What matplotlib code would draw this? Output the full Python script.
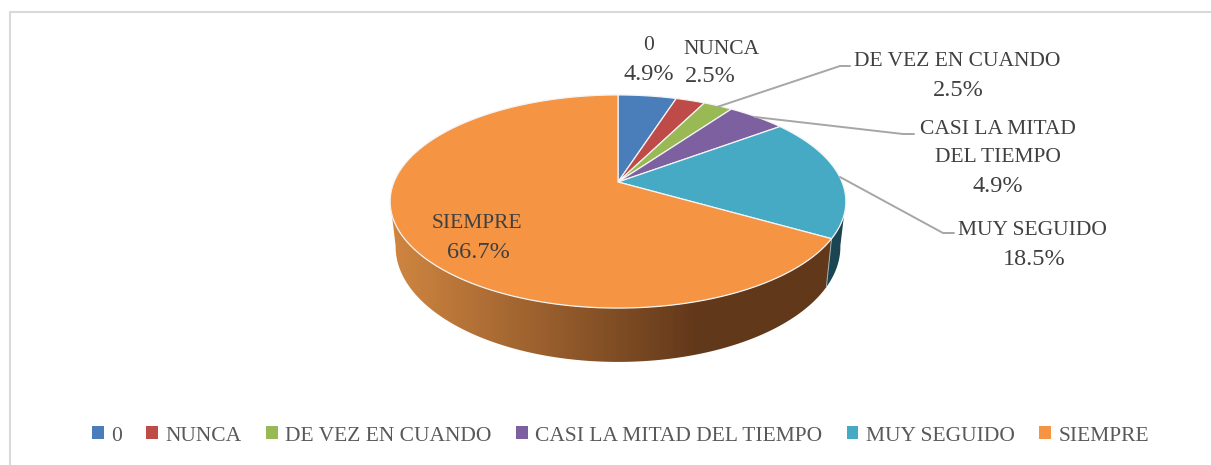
import numpy as np
import matplotlib
matplotlib.use("Agg")
import matplotlib.pyplot as plt
from matplotlib.patches import Polygon, Patch

categories = ["0", "NUNCA", "DE VEZ EN CUANDO", "CASI LA MITAD DEL TIEMPO", "MUY SEGUIDO", "SIEMPRE"]
counts = [4, 2, 2, 4, 15, 54]
colors = ["#4A7EBB", "#BE4B48", "#98B954", "#7D60A0", "#46AAC5", "#F59443"]

W, H = 1211, 465
FONT = "Liberation Serif"
TXT = "#404040"
plt.rcParams["font.family"] = FONT

fig = plt.figure(figsize=(W / 100, H / 100), dpi=100, facecolor="white")
ax = fig.add_axes([0, 0, 1, 1])

# perspective projection of the pie disc
CX, CY, A, B, K = 618, 182, 224, 103, 0.183


def top(theta):
    u, v = np.sin(theta), np.cos(theta)
    return CX + A * u / (1 + K * v), CY - B * v / (1 + K * v)


def bottom(theta):
    x, y = top(theta)
    return CX + 0.976 * (x - CX), 1.08 * y + 29.2


fr = np.array(counts) / sum(counts)
edges = np.concatenate([[0], np.cumsum(fr)]) * 2 * np.pi


def wall_poly(a0, a1):
    th = np.linspace(a0, a1, 300)
    xa, ya = top(th)
    xb, yb = bottom(th[::-1])
    return np.column_stack([np.r_[xa, xb], np.r_[ya, yb]])


# side wall: teal slice
ax.add_patch(Polygon(wall_poly(np.radians(100), edges[5]), closed=True,
                     facecolor="#1B4552", edgecolor="none", zorder=1))

# side wall: orange slice with a horizontal shading gradient
c0 = np.array([0xCF, 0x85, 0x40]) / 255
c1 = np.array([0x62, 0x38, 0x1A]) / 255
gx = np.arange(380, 860)
t = np.clip((gx - 395) / (697 - 395), 0, 1)[:, None]
grad = (c0 + (c1 - c0) * t)[None, :, :]
im = ax.imshow(grad, extent=(380, 860, 380, 190), aspect="auto", zorder=1, interpolation="bilinear")
clip = Polygon(wall_poly(edges[5], np.radians(260)), closed=True, transform=ax.transData,
               facecolor="none", edgecolor="none")
ax.add_patch(clip)
im.set_clip_path(clip)
sx0, sy0 = top(edges[5])
sx1, sy1 = bottom(edges[5])
ax.plot([sx0, sx1], [sy0, sy1], color="#9FB0B5", lw=0.7, zorder=1.5)

# top face
for i, c in enumerate(colors):
    th = np.linspace(edges[i], edges[i + 1], 200)
    xs, ys = top(th)
    pts = np.column_stack([np.r_[CX, xs], np.r_[CY, ys]])
    ax.add_patch(Polygon(pts, closed=True, facecolor=c, edgecolor="#F4F4F4",
                         linewidth=0.9, joinstyle="round", zorder=2))

# leader lines
leaders = [
    [(717, 107), (840, 66), (850, 66)],
    [(755, 117), (903, 134), (914, 134)],
    [(840, 177), (943, 233), (954, 233)],
]
for pts in leaders:
    ax.plot(*zip(*pts), color="#A6A6A6", lw=1.4, zorder=3, solid_capstyle="round")

# data labels
pct = [f"{100 * f:.1f}%" for f in fr]
labels = [
    (649, 649, 45, 75, ["0"], 0),
    (721, 710, 49, 77, ["NUNCA"], 1),
    (957, 958, 61, 90, ["DE VEZ EN CUANDO"], 2),
    (998, 998, 129, 186, ["CASI LA MITAD", "DEL TIEMPO"], 3),
    (1032, 1034, 230, 259, ["MUY SEGUIDO"], 4),
    (477, 478, 223, 252, ["SIEMPRE"], 5),
]
FS = 15.5
FSP = 17.5
for x, xp, y0, yp, lines, idx in labels:
    for j, s in enumerate(lines):
        ax.text(x, y0 + j * 28, s, ha="center", va="center", fontsize=FS, color=TXT, zorder=4)
    ax.text(xp, yp, pct[idx], ha="center", va="center", fontsize=FSP, color=TXT, zorder=4)

# chart frame (open on the right, as cropped in the reference)
ax.plot([10, 10, W], [H, 12, 12], color="#D9D9D9", lw=1.5, zorder=0)

ax.set_xlim(0, W)
ax.set_ylim(H, 0)
ax.axis("off")

# legend
handles = [Patch(facecolor=c, edgecolor="none") for c in colors]
leg = ax.legend(handles, categories, ncol=6, loc="center", bbox_to_anchor=(620.5 / W, 1 - 436 / H),
                bbox_transform=fig.transFigure, frameon=False, fontsize=15.5, labelcolor="#595959",
                handlelength=0.55, handleheight=0.55, handletextpad=0.35, columnspacing=1.12,
                borderpad=0, borderaxespad=0)

fig.savefig("out.png", dpi=100, facecolor="white")
